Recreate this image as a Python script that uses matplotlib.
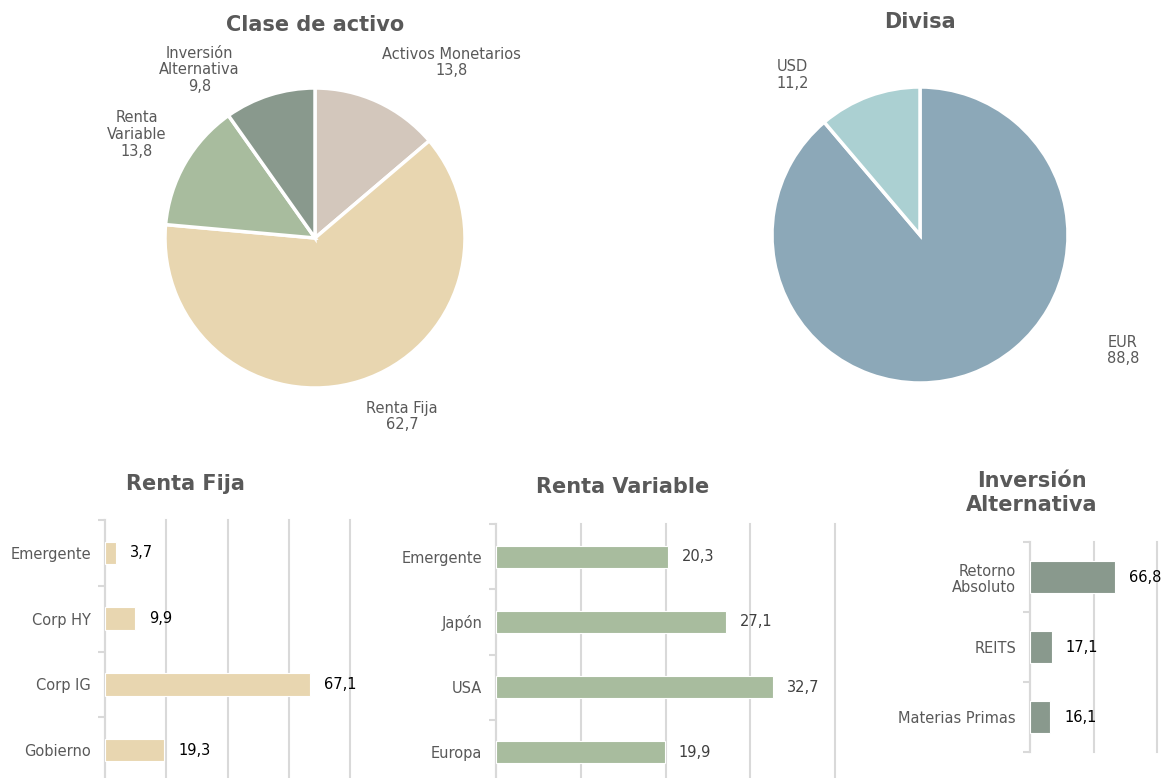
import numpy as np
import matplotlib
matplotlib.use("Agg")
import matplotlib.pyplot as plt
from matplotlib.ticker import FixedLocator

# data
clase_labels = ["Activos Monetarios", "Renta Fija", "Renta\nVariable", "Inversión\nAlternativa"]
clase_vals = [13.8, 62.7, 13.8, 9.8]
clase_cols = ["#D3C7BC", "#E8D6B0", "#A8BC9E", "#89998D"]

divisa_labels = ["EUR", "USD"]
divisa_vals = [88.8, 11.2]
divisa_cols = ["#8CA8B8", "#ABD0D2"]

rf_cats = ["Emergente", "Corp HY", "Corp IG", "Gobierno"]
rf_vals = [3.7, 9.9, 67.1, 19.3]

rv_cats = ["Emergente", "Japón", "USA", "Europa"]
rv_vals = [20.3, 27.1, 32.7, 19.9]

ia_cats = ["Retorno\nAbsoluto", "REITS", "Materias Primas"]
ia_vals = [66.8, 17.1, 16.1]

# label positions (in pie radius units)
clase_lpos = [(0.91, 1.17), (0.58, -1.19), (-1.19, 0.69), (-0.77, 1.12)]
divisa_lpos = [(1.37, -0.78), (-0.86, 1.08)]

W, H = 1163, 778
fig = plt.figure(figsize=(W / 100, H / 100), dpi=100)
plt.rcParams['font.family'] = ['DejaVu Sans']
TXT = "#595959"
GRID = "#D9D9D9"


def px_axes(left, top, right, bottom):
    return fig.add_axes([left / W, 1 - bottom / H, (right - left) / W, (bottom - top) / H])


def fmt(v):
    return f"{v:.1f}".replace(".", ",")


def pie_panel(cx, cy, r, vals, labels, cols, lpos):
    half = 200
    ax = px_axes(cx - half, cy - half, cx + half, cy + half)
    lim = half / r
    ax.pie(vals, colors=cols, startangle=90, counterclock=False,
           wedgeprops=dict(edgecolor="white", linewidth=2.5))
    ax.set_xlim(-lim, lim)
    ax.set_ylim(-lim, lim)
    ax.set_aspect("equal")
    ax.axis("off")
    for lab, v, (x, y) in zip(labels, vals, lpos):
        ax.text(x, y, lab + "\n" + fmt(v), ha="center", va="center",
                fontsize=10.5, color=TXT, linespacing=1.15)


pie_panel(315, 238, 150, clase_vals, clase_labels, clase_cols, clase_lpos)
pie_panel(920, 235, 148, divisa_vals, divisa_labels, divisa_cols, divisa_lpos)


def bar_panel(left, top, right, bottom, cats, vals, color, xmax, step, height, valcol):
    ax = px_axes(left, top, right, bottom)
    y = np.arange(len(cats))
    bars = ax.barh(y, vals, height=height, color=color, edgecolor="white", linewidth=0.8, zorder=3)
    ax.set_ylim(len(cats) - 0.5, -0.5)
    ax.set_xlim(0, xmax)
    ax.set_xticks(np.arange(0, xmax + 0.1, step))
    ax.tick_params(axis="x", length=0, labelbottom=False)
    ax.grid(axis="x", color=GRID, linewidth=1.5, zorder=0, clip_on=False)
    ax.set_yticks(y)
    ax.set_yticklabels(cats, fontsize=10.5, color=TXT, linespacing=1.1)
    ax.tick_params(axis="y", which="major", length=0, pad=10)
    ax.yaxis.set_minor_locator(FixedLocator(np.arange(-0.5, len(cats), 1)))
    ax.tick_params(axis="y", which="minor", length=5, color=GRID, width=1.5)
    for s in ["top", "right", "bottom"]:
        ax.spines[s].set_visible(False)
    ax.spines["left"].set_color(GRID)
    ax.spines["left"].set_linewidth(1.5)
    ax.bar_label(bars, labels=[fmt(v) for v in vals], padding=10, fontsize=10.5, color=valcol)
    return ax


bar_panel(105, 520, 350, 783, rf_cats, rf_vals, "#E8D6B0", 80, 20, 0.34, "#000000")
bar_panel(496, 524, 835, 785, rv_cats, rv_vals, "#A8BC9E", 40, 10, 0.34, "#404040")
bar_panel(1030, 542, 1157, 752, ia_cats, ia_vals, "#89998D", 100, 50, 0.45, "#000000")

title_kw = dict(ha="center", va="center", fontsize=15, fontweight="bold", color=TXT)
fig.text(315 / W, 1 - 25 / H, "Clase de activo", **title_kw)
fig.text(920 / W, 1 - 22 / H, "Divisa", **title_kw)
fig.text(185 / W, 1 - 484 / H, "Renta Fija", **title_kw)
fig.text(623 / W, 1 - 487 / H, "Renta Variable", **title_kw)
fig.text(1032 / W, 1 - 493 / H, "Inversión\nAlternativa", linespacing=1.3, **title_kw)

fig.savefig("out.png", dpi=100)
